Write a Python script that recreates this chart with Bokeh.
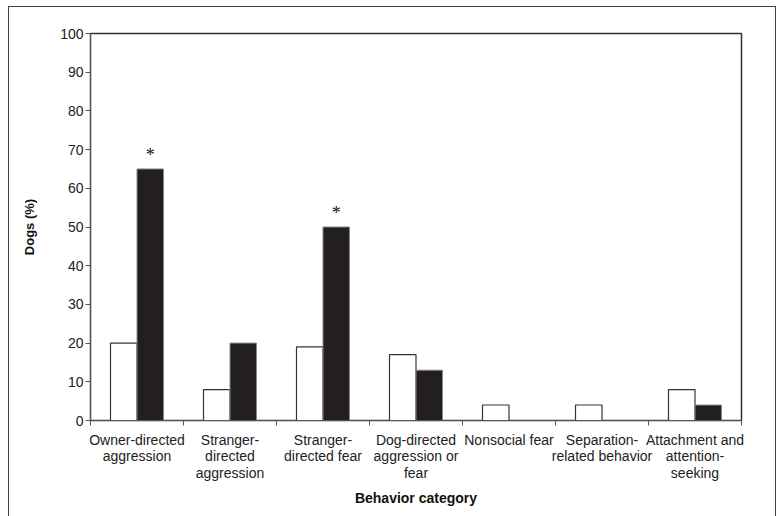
from bokeh.plotting import figure
from bokeh.models import FixedTicker, LinearAxis, Range1d
from bokeh.embed import file_html
from bokeh.resources import INLINE

categories = ["Owner-directed\naggression", "Stranger-\ndirected\naggression",
              "Stranger-\ndirected fear", "Dog-directed\naggression or\nfear",
              "Nonsocial fear", "Separation-\nrelated behavior",
              "Attachment and\nattention-\nseeking"]
white_vals = [20, 8, 19, 17, 4, 4, 8]
black_vals = [65, 20, 50, 13, 0, 0, 4]
significant = [True, False, True, False, False, False, False]
y_ticks = [0, 10, 20, 30, 40, 50, 60, 70, 80, 90, 100]

FONT = "Liberation Sans"
AX = "#555555"

p = figure(width=768, height=510, output_backend="svg", toolbar_location=None,
           x_range=Range1d(0, len(categories)), y_range=Range1d(0, 100),
           min_border_left=81, min_border_right=36, min_border_top=26, min_border_bottom=97,
           x_axis_type=None)
p.styles = {"margin-left": "8px", "margin-top": "6px",
            "border-left": "1px solid #444", "border-top": "1px solid #444",
            "border-right": "1px solid #444"}
p.grid.visible = False
p.outline_line_color = "#333333"
p.outline_line_width = 1.5

bw = 0.285
xc = [i + 0.5 for i in range(len(categories))]
p.vbar(x=[c - bw / 2 for c in xc], top=white_vals, width=bw, bottom=0,
       fill_color="white", line_color="#333333", line_width=1.2)
p.vbar(x=[c + bw / 2 for c, v in zip(xc, black_vals) if v > 0],
       top=[v for v in black_vals if v > 0], width=bw, bottom=0,
       fill_color="#231f20", line_color="#888888", line_width=1)

for c, v, s in zip(xc, black_vals, significant):
    if s:
        p.text(x=[c + bw / 2], y=[v + 1.0], text=["*"], text_align="center",
               text_baseline="bottom", text_font_size="18px", text_color="#111111",
               text_font="Liberation Sans")

# y axis
ya = p.yaxis[0]
ya.ticker = FixedTicker(ticks=y_ticks)
ya.axis_line_color = AX
ya.major_tick_line_color = AX
ya.major_tick_in = 0
ya.major_tick_out = 5
ya.minor_tick_line_color = None
ya.major_label_text_font = FONT
ya.major_label_text_font_size = "14px"
ya.major_label_text_color = "#222222"
ya.major_label_standoff = 2
ya.axis_label = "Dogs (%)"
ya.axis_label_text_font = FONT
ya.axis_label_text_font_style = "bold"
ya.axis_label_text_font_size = "13px"
ya.axis_label_text_color = "#111111"
ya.axis_label_standoff = 20

# x axis: tick marks at category boundaries
xa1 = LinearAxis(ticker=FixedTicker(ticks=list(range(len(categories) + 1))),
                 major_label_text_color=None, major_label_text_font_size="1px",
                 axis_line_color=AX,
                 major_tick_line_color=AX, major_tick_in=0, major_tick_out=5,
                 minor_tick_line_color=None)
p.add_layout(xa1, "below")

# category labels
xa2 = LinearAxis(ticker=FixedTicker(ticks=xc),
                 major_label_overrides={c: lab for c, lab in zip(xc, categories)},
                 axis_line_color=None, major_tick_line_color=None,
                 minor_tick_line_color=None,
                 major_label_text_font=FONT, major_label_text_font_size="14px",
                 major_label_text_line_height=1.05,
                 major_label_text_color="#222222", major_label_standoff=0,
                 axis_label="Behavior category", axis_label_text_font=FONT,
                 axis_label_text_font_style="bold", axis_label_text_font_size="14px",
                 axis_label_text_color="#111111",
                 axis_label_standoff=6)
p.add_layout(xa2, "below")

open("out.html", "w").write(file_html(p, INLINE))
